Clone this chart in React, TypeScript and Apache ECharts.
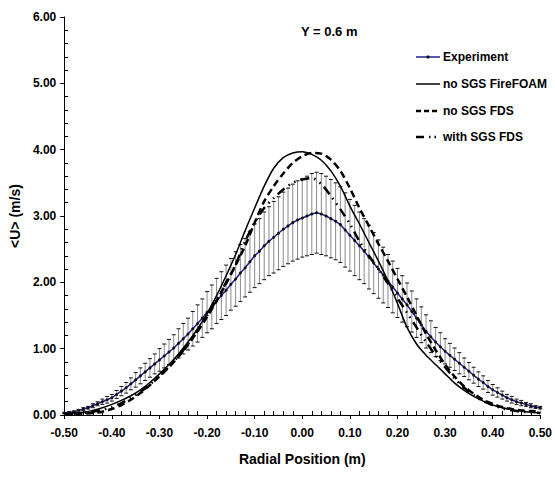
import React, { useEffect, useRef } from "react";
import * as echarts from "echarts";

const FONT = "'Liberation Sans Narrow', 'Arial Narrow', 'Liberation Sans', Arial, sans-serif";

// Experiment sampled every 0.01 m from -0.50 to 0.50
const expStart = -0.5;
const expStep = 0.01;
const expValues = [
  0.03, 0.04, 0.05, 0.07, 0.09, 0.11, 0.14, 0.17, 0.2, 0.23,
  0.26, 0.31, 0.36, 0.41, 0.47, 0.53, 0.59, 0.65, 0.71, 0.77,
  0.83, 0.89, 0.95, 1.01, 1.08, 1.15, 1.22, 1.3, 1.38, 1.46,
  1.55, 1.63, 1.72, 1.8, 1.88, 1.97, 2.05, 2.14, 2.22, 2.31,
  2.4, 2.47, 2.55, 2.62, 2.68, 2.74, 2.8, 2.85, 2.9, 2.94,
  2.97, 3.0, 3.03, 3.05, 3.03, 3.0, 2.96, 2.92, 2.87, 2.79,
  2.71, 2.63, 2.55, 2.47, 2.38, 2.29, 2.2, 2.11, 2.02, 1.93,
  1.84, 1.75, 1.66, 1.56, 1.46, 1.36, 1.26, 1.18, 1.1, 1.03,
  0.96, 0.9, 0.84, 0.78, 0.72, 0.66, 0.6, 0.54, 0.49, 0.43,
  0.38, 0.34, 0.3, 0.26, 0.23, 0.2, 0.18, 0.16, 0.14, 0.12,
  0.11,
];
const expErrors = [
  0.01, 0.01, 0.01, 0.01, 0.02, 0.02, 0.03, 0.03, 0.04, 0.05,
  0.05, 0.06, 0.07, 0.08, 0.09, 0.11, 0.12, 0.13, 0.14, 0.15,
  0.17, 0.18, 0.19, 0.2, 0.22, 0.23, 0.24, 0.26, 0.28, 0.29,
  0.31, 0.33, 0.34, 0.36, 0.38, 0.39, 0.41, 0.43, 0.44, 0.46,
  0.48, 0.49, 0.51, 0.52, 0.54, 0.55, 0.56, 0.57, 0.58, 0.59,
  0.59, 0.6, 0.61, 0.61, 0.61, 0.6, 0.59, 0.58, 0.57, 0.56,
  0.54, 0.53, 0.51, 0.49, 0.48, 0.46, 0.44, 0.42, 0.4, 0.39,
  0.37, 0.35, 0.33, 0.31, 0.29, 0.27, 0.25, 0.24, 0.22, 0.21,
  0.19, 0.18, 0.17, 0.16, 0.14, 0.13, 0.12, 0.11, 0.1, 0.09,
  0.08, 0.07, 0.06, 0.05, 0.05, 0.04, 0.04, 0.03, 0.03, 0.02,
  0.02,
];

// Simulations sampled every 0.02 m from -0.50 to 0.50
const simStart = -0.5;
const simStep = 0.02;
const fireFoam = [
  0.02, 0.03, 0.04, 0.07, 0.11, 0.16, 0.22, 0.29, 0.38, 0.49,
  0.62, 0.76, 0.92, 1.1, 1.3, 1.53, 1.8, 2.1, 2.42, 2.78,
  3.12, 3.45, 3.72, 3.88, 3.95, 3.97, 3.93, 3.84, 3.68, 3.45,
  3.15, 2.88, 2.6, 2.32, 2.02, 1.68, 1.32, 1.07, 0.9, 0.76,
  0.62, 0.48, 0.37, 0.28, 0.21, 0.15, 0.11, 0.08, 0.06, 0.04,
  0.03,
];
const noSgsFds = [
  0.01, 0.01, 0.02, 0.03, 0.05, 0.09, 0.15, 0.23, 0.33, 0.45,
  0.58, 0.72, 0.88, 1.06, 1.26, 1.48, 1.72, 1.98, 2.26, 2.55,
  2.9, 3.22, 3.45, 3.64, 3.8, 3.9, 3.95, 3.94, 3.85, 3.68,
  3.42, 3.12, 2.85, 2.58, 2.32, 2.05, 1.78, 1.5, 1.22, 0.98,
  0.76, 0.58, 0.43, 0.32, 0.23, 0.17, 0.12, 0.09, 0.07, 0.06,
  0.05,
];
const withSgsFds = [
  0.02, 0.02, 0.03, 0.05, 0.08, 0.12, 0.18, 0.26, 0.35, 0.46,
  0.59, 0.73, 0.89, 1.07, 1.27, 1.5, 1.74, 2.0, 2.27, 2.62,
  2.9, 3.12, 3.27, 3.4, 3.5, 3.55, 3.57, 3.48, 3.3, 3.1,
  2.88, 2.62, 2.4, 2.2, 1.98, 1.76, 1.54, 1.32, 1.1, 0.9,
  0.72, 0.55, 0.41, 0.3, 0.21, 0.15, 0.1, 0.07, 0.05, 0.04,
  0.03,
];

const legendNames = ["Experiment", "no SGS FireFOAM", "no SGS FDS", "with SGS FDS"];
const titleText = "Y = 0.6 m";
const xName = "Radial Position (m)";
const yName = "<U> (m/s)";

const round = (v: number) => Math.round(v * 1000) / 1000;
const expX = expValues.map((_, i) => round(expStart + i * expStep));
const simX = fireFoam.map((_, i) => round(simStart + i * simStep));
const pair = (xs: number[], ys: number[]) => xs.map((x, i) => [x, ys[i]]);

const EXP_COLOR = "#1f1f90";
const dashFds = [7, 4];
const dashSgs = [9, 5, 1.5, 5, 1.5, 5];

function legendGraphic() {
  const x0 = 416;
  const x1 = 440;
  const tx = 443;
  const ys = [57, 84, 111, 137];
  const styles: any[] = [
    { stroke: EXP_COLOR, lineWidth: 1.5 },
    { stroke: "#000", lineWidth: 1.5 },
    { stroke: "#000", lineWidth: 2.5, lineDash: [5, 3] },
    { stroke: "#000", lineWidth: 2.5, lineDash: [8, 5, 1.5, 4, 1.5, 4] },
  ];
  const els: any[] = [];
  legendNames.forEach((name, i) => {
    els.push({ type: "line", shape: { x1: x0, y1: ys[i], x2: x1, y2: ys[i] }, style: styles[i], z: 10 });
    els.push({
      type: "text",
      x: tx,
      y: ys[i],
      style: { text: name, fill: "#000", font: `bold 12px ${FONT}`, textVerticalAlign: "middle", verticalAlign: "middle" },
      z: 10,
    });
  });
  els.push({ type: "circle", shape: { cx: (x0 + x1) / 2, cy: ys[0], r: 1.6 }, style: { fill: "#111" }, z: 11 });
  return els;
}

export default function App() {
  const ref = useRef<HTMLDivElement>(null);
  useEffect(() => {
    document.body.style.margin = "0";
    const chart = echarts.init(ref.current!, null, { renderer: "svg" });
    const tickLabel = { color: "#000", fontSize: 12, fontWeight: "bold" as const, fontFamily: FONT };
    chart.setOption({
      animation: false,
      backgroundColor: "#fff",
      title: {
        text: titleText,
        left: 296,
        top: 20,
        textStyle: { fontSize: 13, fontWeight: "bold", fontFamily: FONT, color: "#000" },
      },
      graphic: legendGraphic(),
      grid: { left: 58, right: 14, top: 17, bottom: 71 },
      xAxis: {
        type: "value",
        min: -0.5,
        max: 0.5,
        interval: 0.1,
        name: xName,
        nameLocation: "middle",
        nameGap: 37,
        nameTextStyle: { fontSize: 14, fontWeight: "bold", fontFamily: FONT, color: "#000" },
        axisLine: { onZero: false, lineStyle: { color: "#000", width: 1 } },
        axisTick: { show: true, length: 4, lineStyle: { color: "#000" } },
        minorTick: { show: true, splitNumber: 5, length: -4, lineStyle: { color: "#000" } },
        axisLabel: { ...tickLabel, margin: 12, formatter: (v: number) => v.toFixed(2) },
        splitLine: { show: false },
      },
      yAxis: {
        type: "value",
        min: 0,
        max: 6,
        interval: 1,
        name: yName,
        nameLocation: "middle",
        nameGap: 36,
        nameTextStyle: { fontSize: 14, fontWeight: "bold", fontFamily: "'Liberation Sans', Arial, sans-serif", color: "#000" },
        axisLine: { show: true, onZero: false, lineStyle: { color: "#000", width: 1 } },
        axisTick: { show: true, length: 4, lineStyle: { color: "#000" } },
        minorTick: { show: true, splitNumber: 5, length: -4, lineStyle: { color: "#000" } },
        axisLabel: { ...tickLabel, margin: 8, formatter: (v: number) => v.toFixed(2) },
        splitLine: { show: false },
      },
      series: [
        {
          type: "custom",
          name: "errors",
          data: expX.map((x, i) => [x, expValues[i], expErrors[i]]),
          encode: { x: 0, y: 1 },
          z: 1,
          renderItem: (_p: any, api: any) => {
            const x = api.value(0);
            const v = api.value(1);
            const e = api.value(2);
            const top = api.coord([x, v + e]);
            const bot = api.coord([x, v - e]);
            const hw = 2;
            return {
              type: "group",
              children: [
                { type: "line", shape: { x1: top[0], y1: top[1], x2: bot[0], y2: bot[1] }, style: { stroke: "#8a8a8a", lineWidth: 1 } },
                { type: "line", shape: { x1: top[0] - hw, y1: top[1], x2: top[0] + hw, y2: top[1] }, style: { stroke: "#111", lineWidth: 1 } },
                { type: "line", shape: { x1: bot[0] - hw, y1: bot[1], x2: bot[0] + hw, y2: bot[1] }, style: { stroke: "#111", lineWidth: 1 } },
              ],
            };
          },
        },
        {
          type: "line",
          name: legendNames[0],
          data: pair(expX, expValues),
          symbol: "circle",
          symbolSize: 3,
          showSymbol: true,
          itemStyle: { color: "#111" },
          lineStyle: { color: EXP_COLOR, width: 1.5 },
          z: 3,
        },
        {
          type: "line",
          name: legendNames[1],
          data: pair(simX, fireFoam),
          symbol: "none",
          smooth: 0.3,
          lineStyle: { color: "#000", width: 1.5, type: "solid" },
          z: 4,
        },
        {
          type: "line",
          name: legendNames[2],
          data: pair(simX, noSgsFds),
          symbol: "none",
          smooth: 0.3,
          lineStyle: { color: "#000", width: 2.5, type: dashFds },
          z: 4,
        },
        {
          type: "line",
          name: legendNames[3],
          data: pair(simX, withSgsFds),
          symbol: "none",
          smooth: 0.3,
          lineStyle: { color: "#000", width: 2.5, type: dashSgs },
          z: 4,
        },
      ],
    });
    return () => chart.dispose();
  }, []);
  return <div ref={ref} style={{ width: 555, height: 486 }} />;
}
